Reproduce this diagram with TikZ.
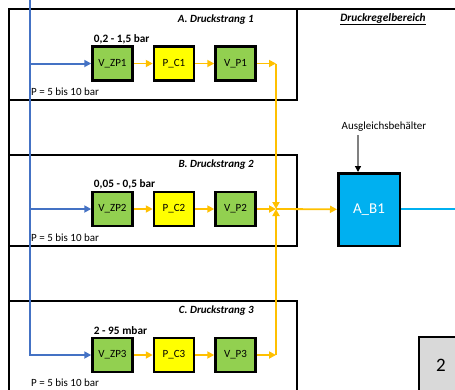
\documentclass[tikz,border=0pt]{standalone}
\usepackage{fontspec}
\setmainfont{Carlito}
\usepackage{xcolor}
\usetikzlibrary{positioning,arrows.meta}

\definecolor{ventilgruen}{HTML}{92D050}
\definecolor{pumpengelb}{HTML}{FFFF00}
\definecolor{flussgelb}{HTML}{FFC000}
\definecolor{zulaufblau}{HTML}{4472C4}
\definecolor{behaelterblau}{HTML}{00B0F0}
\definecolor{anzeigegrau}{HTML}{D9D9D9}

\begin{document}
\begin{tikzpicture}[x=1pt, y=-1pt, node distance=19pt,
                    every node/.style={font=\fontsize{11}{13}\selectfont},
                    baustein/.style={draw, line width=2.5pt, minimum width=40pt,
                                     minimum height=34pt, inner sep=0pt},
                    ventil/.style={baustein, fill=ventilgruen},
                    pumpe/.style={baustein, fill=pumpengelb},
                    rahmen/.style={line width=2.5pt},
                    zulauf/.style={draw=zulaufblau, line width=2pt,
                                   -{Triangle[length=7pt,width=7pt]}},
                    fluss/.style={draw=flussgelb, line width=1.8pt,
                                  -{Triangle[length=7pt,width=7pt]}},
                    druckbereich/.style={font=\fontsize{11.3}{13}\selectfont\bfseries,
                                         anchor=south west, inner sep=1.5pt},
                    eingangsdruck/.style={anchor=west, inner sep=1pt},
                    strangtitel/.style={font=\fontsize{11}{13}\selectfont\bfseries\itshape,
                                        anchor=east, inner sep=0pt}]
  \useasboundingbox (0,0) rectangle (455,389);
  \clip (0,0) rectangle (455,389);

  % Rahmen
  \draw[rahmen] (9,400) -- (9,9) -- (460,9);
  \draw[rahmen] (9,9) rectangle (297,100);
  \draw[rahmen] (9,155) rectangle (297,246);
  \draw[rahmen] (9,301) rectangle (297,400);

  \node[strangtitel] (titelA) at (254,20) {A. Druckstrang 1};
  \node[strangtitel] (titelB) at (254,165) {B. Druckstrang 2};
  \node[strangtitel] (titelC) at (254,311) {C. Druckstrang 3};
  \node[font=\fontsize{11.3}{13}\selectfont\bfseries\itshape] (regel) at (383,19)
    {\underline{Druckregelbereich}};

  % Strang 1
  \node[ventil] (vzp1) at (112.5,63.5) {V\_ZP1};
  \node[pumpe, right=of vzp1] (pc1) {P\_C1};
  \node[ventil, right=of pc1] (vp1) {V\_P1};

  % Strang 2
  \node[ventil] (vzp2) at (112.5,209) {V\_ZP2};
  \node[pumpe, right=of vzp2] (pc2) {P\_C2};
  \node[ventil, right=of pc2] (vp2) {V\_P2};

  % Strang 3
  \node[ventil] (vzp3) at (112.5,355) {V\_ZP3};
  \node[pumpe, right=of vzp3] (pc3) {P\_C3};
  \node[ventil, right=of pc3] (vp3) {V\_P3};

  \node[druckbereich] (db1) at ([xshift=1pt]vzp1.north west) {0,2 - 1,5 bar};
  \node[druckbereich] (db2) at ([xshift=1pt]vzp2.north west) {0,05 - 0,5 bar};
  \node[druckbereich] (db3) at ([xshift=1pt]vzp3.north west) {2 - 95 mbar};

  % Zulauf
  \coordinate (zq) at (30,0);
  \draw[zulauf] (zq) |- (vzp3);
  \draw[zulauf] (zq |- vzp1) -- (vzp1);
  \draw[zulauf] (zq |- vzp2) -- (vzp2);

  \node[eingangsdruck] (pe1) at ([yshift=-28pt]zq |- vzp1) {P = 5 bis 10 bar};
  \node[eingangsdruck] (pe2) at ([yshift=-29pt]zq |- vzp2) {P = 5 bis 10 bar};
  \node[eingangsdruck] (pe3) at ([yshift=-28pt]zq |- vzp3) {P = 5 bis 10 bar};

  % Verbindungen
  \foreach \n in {1,2,3} {
    \draw[fluss] (vzp\n) -- (pc\n);
    \draw[fluss] (pc\n) -- (vp\n);
  }

  % Behaelter
  \node[draw, line width=2.5pt, fill=behaelterblau, text=white,
        minimum width=61.5pt, minimum height=72.5pt,
        font=\fontsize{15}{18}\selectfont] (ab1) at (369,209.5) {A\_B1};
  \node (ausgl) at (384,127) {Ausgleichsbehälter};
  \coordinate (zustrom) at ([xshift=21pt]ab1.north west);
  \draw[gray, line width=1.3pt, -{Triangle[length=6pt,width=6pt,color=black]}]
    (zustrom |- ausgl.south) -- (zustrom);

  \coordinate (knoten) at (276,209);
  \coordinate (ecke1) at (knoten |- vp1);
  \coordinate (ecke3) at (knoten |- vp3);
  \draw[fluss] (vp1) -- (ecke1);
  \draw[fluss] (ecke1) -- (knoten);
  \draw[fluss] (vp3) -- (ecke3);
  \draw[fluss] (ecke3) -- (knoten);
  \draw[fluss] (vp2) -- (knoten);
  \draw[fluss] (knoten) -- (ab1);

  % Abfluss
  \coordinate (abgang) at ([yshift=0.5pt]ab1.east);
  \coordinate (rechts) at (460,0);
  \draw[draw=behaelterblau, line width=2pt] (abgang) -- (abgang -| rechts);

  % Anzeige
  \draw[fill=anzeigegrau, line width=1.2pt] (419,337) rectangle (480,420);
  \node[font=\fontsize{19}{22}\selectfont] (zwei) at (441,365) {2};
\end{tikzpicture}
\end{document}
